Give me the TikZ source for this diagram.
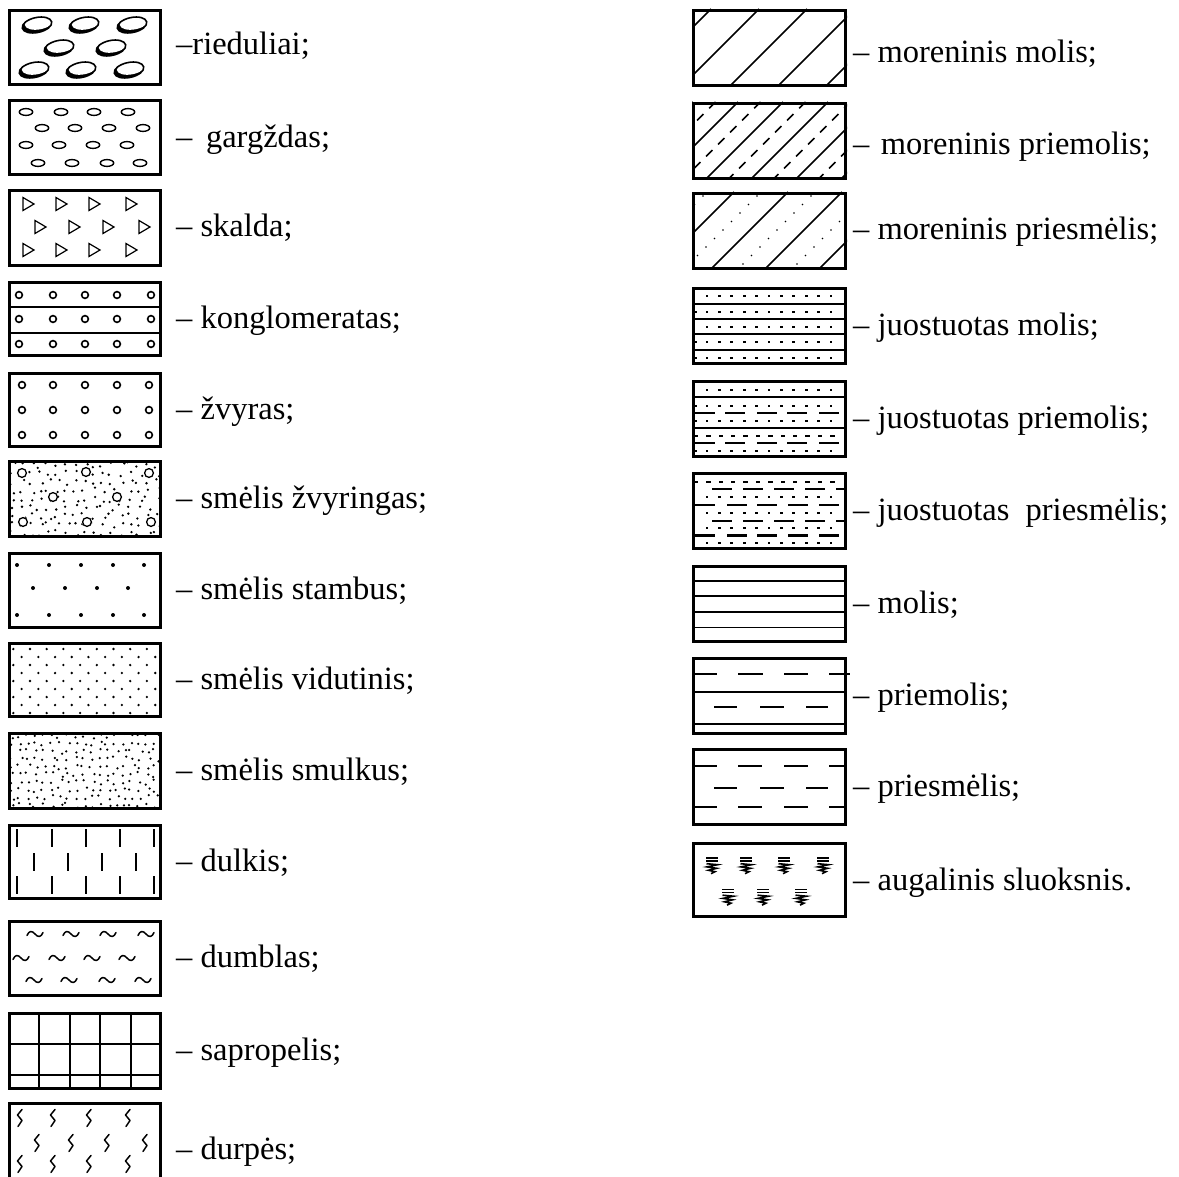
\documentclass[tikz,border=0pt]{standalone}
\usepackage{fontspec}
\setmainfont{Liberation Serif}
\newcommand\lblfont{\fontsize{32.5}{39}\selectfont}
\tikzset{
  frame/.style={line width=2.8pt,draw=black,line join=miter},
  pat/.style={line width=1.5pt,line cap=round,line join=round},
  sepline/.style={line width=1.8pt},
  diag/.style={line width=1.5pt},
  longdash/.style={line width=2.8pt},
  lbl/.style={anchor=base west,inner sep=0pt,font=\lblfont},
}
\newcommand\sqdot[2]{\fill (#1-1.4,#2-1.4) rectangle ++(2.8,2.8);}
\newcommand\tild[2]{\draw[pat] (#1-8,#2+1.5) .. controls (#1-6,#2-3.5) and (#1-3,#2-3.5) .. (#1,#2) .. controls (#1+3,#2+3.5) and (#1+6,#2+3.5) .. (#1+8,#2-1.5);}
\newcommand\squig[2]{\draw[pat] (#1+2,#2-8.5) -- (#1-2.5,#2-3) -- (#1+2,#2+2.5) -- (#1-2,#2+8.5);}
\newcommand\plant[2]{\draw[line width=1.5pt] (#1-6,#2-7.5) -- (#1+6,#2-7.5) (#1-6,#2-4.5) -- (#1+6,#2-4.5);
  \draw[line width=1.6pt,line join=miter] (#1-5.5,#2-1.8) -- (#1+5.5,#2-0.8) -- (#1-5,#2+1.4) -- (#1+4.5,#2+2.8) -- (#1-3.5,#2+4.8) -- (#1+3,#2+6.2) -- (#1-1,#2+8.2);}
\begin{document}
\begin{tikzpicture}[x=1pt,y=-1pt]
\fill[white] (0,0) rectangle (1179,1177);
\useasboundingbox (0,0) rectangle (1179,1177);

% ---------- LEFT COLUMN ----------
% 1 rieduliai
\begin{scope}[shift={(8,9)}]
  \foreach \ex/\ey in {29/16,76/16,124/16,51/39,103/39,26/61,73/61,121/61} {
    \begin{scope}[shift={(\ex,\ey)},rotate=12]
      \begin{scope}
        \clip (0,0) ellipse [x radius=15,y radius=7.5];
        \fill (0,0) ellipse [x radius=15,y radius=7.5];
        \fill[white] (3,-2.6) ellipse [x radius=15,y radius=7.5];
      \end{scope}
      \draw[line width=1.6pt] (0,0) ellipse [x radius=15,y radius=7.5];
    \end{scope}
  }
  \draw[frame] (1.4,1.4) rectangle (152.6,75.6);
\end{scope}
\node[lbl] (t1) at (176,55) {–rieduliai;};

% 2 gargzdas
\begin{scope}[shift={(8,99)}]
  \foreach \x/\y in {18/13,53/13,86/13,120/13,34/29,67/29,101/29,135/29,18/46,51/46,85/46,119/46,30/64,64/64,99/64,132/64}
    \draw[line width=1.4pt] (\x,\y) ellipse [x radius=6.7,y radius=3.4];
  \draw[frame] (1.4,1.4) rectangle (152.6,75.6);
\end{scope}
\node[lbl] (t2) at (176,148) {–\hspace{0.42em}gargždas;};

% 3 skalda
\begin{scope}[shift={(8,189)}]
  \foreach \x/\y in {20/15,53/15,86/15,123/15,32/38,66/38,100/38,136/38,20/61,53/61,86/61,123/61}
    \draw[line width=1.2pt,line join=miter] (\x-5,\y-6.5) -- (\x+6,\y) -- (\x-5,\y+6.5) -- cycle;
  \draw[frame] (1.4,1.4) rectangle (152.6,76.6);
\end{scope}
\node[lbl] (t3) at (176,237) {– skalda;};

% 4 konglomeratas
\begin{scope}[shift={(8,281)}]
  \draw[sepline] (0,26) -- (154,26) (0,52) -- (154,52);
  \foreach \y in {14,38,63}
    \foreach \x in {11,45,77,109,143}
      \draw[line width=1.6pt] (\x,\y) circle (3.4);
  \draw[frame] (1.4,1.4) rectangle (152.6,74.6);
\end{scope}
\node[lbl] (t4) at (176,328) {– konglomeratas;};

% 5 zvyras
\begin{scope}[shift={(8,372)}]
  \foreach \y in {13,38,63}
    \foreach \x in {14,45,77,109,141}
      \draw[line width=1.6pt] (\x,\y) circle (3.4);
  \draw[frame] (1.4,1.4) rectangle (152.6,74.6);
\end{scope}
\node[lbl] (t5) at (176,419) {– žvyras;};

% 6 smelis zvyringas
\begin{scope}[shift={(8,460)}]
  \pgfmathsetseed{7}
  \begin{scope}
    \clip (2.8,2.8) rectangle (151.2,75.2);
    \foreach \i in {0,...,16}
      \foreach \j in {0,...,8} {
        \pgfmathsetmacro\px{5+\i*9+(rnd-0.5)*7}
        \pgfmathsetmacro\py{5+\j*8.5+(rnd-0.5)*6}
        \fill (\px,\py) circle (1.3);
      }
    \foreach \x/\y in {14/13,78/12,141/13,45/37,109/37,15/62,79/62,143/62} {
      \fill[white] (\x,\y) circle (5.2);
      \draw[line width=1.3pt] (\x,\y) circle (4.4);
    }
  \end{scope}
  \draw[frame] (1.4,1.4) rectangle (152.6,76.6);
\end{scope}
\node[lbl] (t6) at (176,508) {– smėlis žvyringas;};

% 7 smelis stambus
\begin{scope}[shift={(8,552)}]
  \foreach \x in {9,41,73,105,136} { \fill (\x,13) circle (2); \fill (\x,63) circle (2); }
  \foreach \x in {25,57,89,120} \fill (\x,36) circle (2);
  \draw[frame] (1.4,1.4) rectangle (152.6,75.6);
\end{scope}
\node[lbl] (t7) at (176,599) {– smėlis stambus;};

% 8 smelis vidutinis
\begin{scope}[shift={(8,642)}]
  \begin{scope}
    \clip (2.8,2.8) rectangle (151.2,73.2);
    \foreach \j in {0,...,8} {
      \pgfmathsetmacro\py{7+\j*8}
      \pgfmathsetmacro\off{mod(\j,2)*8.35}
      \foreach \i in {0,...,9}
        \fill (5.3+\off+\i*16.7,\py) circle (1.3);
    }
  \end{scope}
  \draw[frame] (1.4,1.4) rectangle (152.6,74.6);
\end{scope}
\node[lbl] (t8) at (176,689) {– smėlis vidutinis;};

% 9 smelis smulkus
\begin{scope}[shift={(8,732)}]
  \pgfmathsetseed{11}
  \begin{scope}
    \clip (2.8,2.8) rectangle (151.2,75.2);
    \foreach \i in {0,...,18}
      \foreach \j in {0,...,9} {
        \pgfmathsetmacro\px{4+\i*8+(rnd-0.5)*6}
        \pgfmathsetmacro\py{4+\j*7.7+(rnd-0.5)*5}
        \fill (\px,\py) circle (1.25);
      }
  \end{scope}
  \draw[frame] (1.4,1.4) rectangle (152.6,76.6);
\end{scope}
\node[lbl] (t9) at (176,780) {– smėlis smulkus;};

% 10 dulkis
\begin{scope}[shift={(8,824)}]
  \foreach \x in {9,44,78,112,146} {
    \draw[line width=1.8pt] (\x,5) -- (\x,23);
    \draw[line width=1.8pt] (\x,52) -- (\x,70);
  }
  \foreach \x in {26,60,94,128} \draw[line width=1.8pt] (\x,29) -- (\x,47);
  \draw[frame] (1.4,1.4) rectangle (152.6,74.6);
\end{scope}
\node[lbl] (t10) at (176,871) {– dulkis;};

% 11 dumblas
\begin{scope}[shift={(8,920)}]
  \foreach \x in {27,63,100,138} {\tild{\x}{14}}
  \foreach \x in {13,49,84,119} {\tild{\x}{38}}
  \foreach \x in {26,61,99,135} {\tild{\x}{60}}
  \draw[frame] (1.4,1.4) rectangle (152.6,75.6);
\end{scope}
\node[lbl] (t11) at (176,967) {– dumblas;};

% 12 sapropelis
\begin{scope}[shift={(8,1012)}]
  \draw[sepline] (0,32) -- (154,32) (0,63) -- (154,63);
  \foreach \x in {31,62,92,123} \draw[sepline] (\x,0) -- (\x,78);
  \draw[frame] (1.4,1.4) rectangle (152.6,76.6);
\end{scope}
\node[lbl] (t12) at (176,1060) {– sapropelis;};

% 13 durpes
\begin{scope}[shift={(8,1102)}]
  \foreach \x in {12,45,81,120} { \squig{\x}{16} \squig{\x}{62} }
  \foreach \x in {29,63,99,137} {\squig{\x}{41}}
  \draw[frame] (1.4,80) -- (1.4,1.4) -- (152.6,1.4) -- (152.6,80);
\end{scope}
\node[lbl] (t13) at (176,1159) {– durpės;};

% ---------- RIGHT COLUMN ----------
% R1 moreninis molis
\begin{scope}[shift={(692,9)}]
  \begin{scope}
    \clip (0,0) rectangle (155,78);
    \foreach \c in {19,67,115,163,211} \draw[diag] (\c,0) -- (\c-78,78);
  \end{scope}
  \draw[frame] (1.4,1.4) rectangle (153.6,76.6);
\end{scope}
\node[lbl] (r1) at (853,63) {– moreninis molis;};

% R2 moreninis priemolis
\begin{scope}[shift={(692,102)}]
  \begin{scope}
    \clip (0,0) rectangle (155,78);
    \foreach \c in {1,46,91,136,181,226} \draw[diag] (\c,0) -- (\c-78,78);
    \foreach \c in {23.5,68.5,113.5,158.5,203.5} \draw[diag,dash pattern=on 9pt off 8pt] (\c,0) -- (\c-78,78);
  \end{scope}
  \draw[frame] (1.4,1.4) rectangle (153.6,76.6);
\end{scope}
\node[lbl] (r2) at (853,155) {–\hspace{0.35em}moreninis priemolis;};

% R3 moreninis priesmelis
\begin{scope}[shift={(692,192)}]
  \begin{scope}
    \clip (0,0) rectangle (155,78);
    \foreach \c in {42,96,150,204} \draw[diag] (\c,0) -- (\c-78,78);
    \foreach \c in {15,69,123,177,231}
      \foreach \t in {4,12.5,...,80}
        \fill (\c-\t,\t) circle (0.9);
  \end{scope}
  \draw[frame] (1.4,1.4) rectangle (153.6,76.6);
\end{scope}
\node[lbl] (r3) at (853,240) {– moreninis priesmėlis;};

% R4 juostuotas molis
\begin{scope}[shift={(692,287)}]
  \draw[sepline] (0,17) -- (155,17) (0,32) -- (155,32) (0,47) -- (155,47) (0,63) -- (155,63);
  \foreach \y in {9,25,40,55,71}
    \foreach \x in {15,27.4,...,141} {\sqdot{\x}{\y}}
  \foreach \y in {25,55,71} {\sqdot{4}{\y}}
  \draw[frame] (1.4,1.4) rectangle (153.6,76.6);
\end{scope}
\node[lbl] (r4) at (853,335) {– juostuotas molis;};

% R5 juostuotas priemolis
\begin{scope}[shift={(692,380)}]
  \draw[sepline] (0,17) -- (155,17) (0,48) -- (155,48);
  \foreach \x in {15,27.4,...,141} { \sqdot{\x}{10} \sqdot{\x}{26} \sqdot{\x}{41} \sqdot{\x}{71} }
  \foreach \x in {4,16.4,...,150} {\fill (\x-2.2,56-1.2) rectangle ++(4.4,2.4);}
  \foreach \a in {3,33,65,95,127} {
    \draw[longdash] (\a,33) -- (\a+20,33);
    \draw[longdash] (\a,63) -- (\a+20,63);
  }
  \sqdot{4}{26} \sqdot{4}{41} \sqdot{4}{71}
  \draw[frame] (1.4,1.4) rectangle (153.6,76.6);
\end{scope}
\node[lbl] (r5) at (853,428) {– juostuotas priemolis;};

% R6 juostuotas priesmelis
\begin{scope}[shift={(692,472)}]
  \begin{scope}
    \clip (2.8,2.8) rectangle (152.2,75.2);
    \foreach \x in {15,27.4,...,141} { \sqdot{\x}{25} \sqdot{\x}{41} \sqdot{\x}{56} \sqdot{\x}{71} }
    \foreach \x in {4,16.4,...,150} {\fill (\x-2.2,10-1.2) rectangle ++(4.4,2.4);}
    \foreach \a in {20,51,82,113,144} { \draw[longdash] (\a,17) -- (\a+20,17); \draw[longdash] (\a,49) -- (\a+20,49); }
    \foreach \a in {3,35,65,96,127} { \draw[longdash] (\a,33) -- (\a+20,33); \draw[longdash] (\a,63.5) -- (\a+20,63.5); }
  \end{scope}
  \draw[frame] (1.4,1.4) rectangle (153.6,76.6);
\end{scope}
\node[lbl] (r6) at (853,520) {– juostuotas\hspace{0.5em}priesmėlis;};

% R7 molis
\begin{scope}[shift={(692,565)}]
  \foreach \y in {15.6,31.2,46.8,62.4} \draw[sepline] (0,\y) -- (155,\y);
  \draw[frame] (1.4,1.4) rectangle (153.6,76.6);
\end{scope}
\node[lbl] (r7) at (853,613) {– molis;};

% R8 priemolis
\begin{scope}[shift={(692,657)}]
  \draw[sepline] (0,35) -- (155,35) (0,67) -- (155,67);
  \foreach \a/\b in {2/25,46/71,92/116,137/158} \draw[line width=2.2pt] (\a,17) -- (\b,17);
  \foreach \a/\b in {22/45,68/92,114/136} \draw[line width=2.2pt] (\a,50) -- (\b,50);
  \draw[frame] (1.4,1.4) rectangle (153.6,76.6);
\end{scope}
\node[lbl] (r8) at (853,705) {– priemolis;};

% R9 priesmelis
\begin{scope}[shift={(692,748)}]
  \foreach \a/\b in {2/25,46/70,92/116,137/153} { \draw[line width=2.2pt] (\a,18) -- (\b,18); \draw[line width=2.2pt] (\a,59) -- (\b,59); }
  \foreach \a/\b in {22/45,68/92,114/136} \draw[line width=2.2pt] (\a,40) -- (\b,40);
  \draw[frame] (1.4,1.4) rectangle (153.6,76.6);
\end{scope}
\node[lbl] (r9) at (853,796) {– priesmėlis;};

% R10 augalinis sluoksnis
\begin{scope}[shift={(692,842)}]
  \foreach \x in {20,54,92,131} {\plant{\x}{23.5}}
  \foreach \x in {36,71,109} {\plant{\x}{55}}
  \draw[frame] (1.4,1.4) rectangle (153.6,74.6);
\end{scope}
\node[lbl] (r10) at (853,890) {– augalinis sluoksnis.};
\end{tikzpicture}
\end{document}
